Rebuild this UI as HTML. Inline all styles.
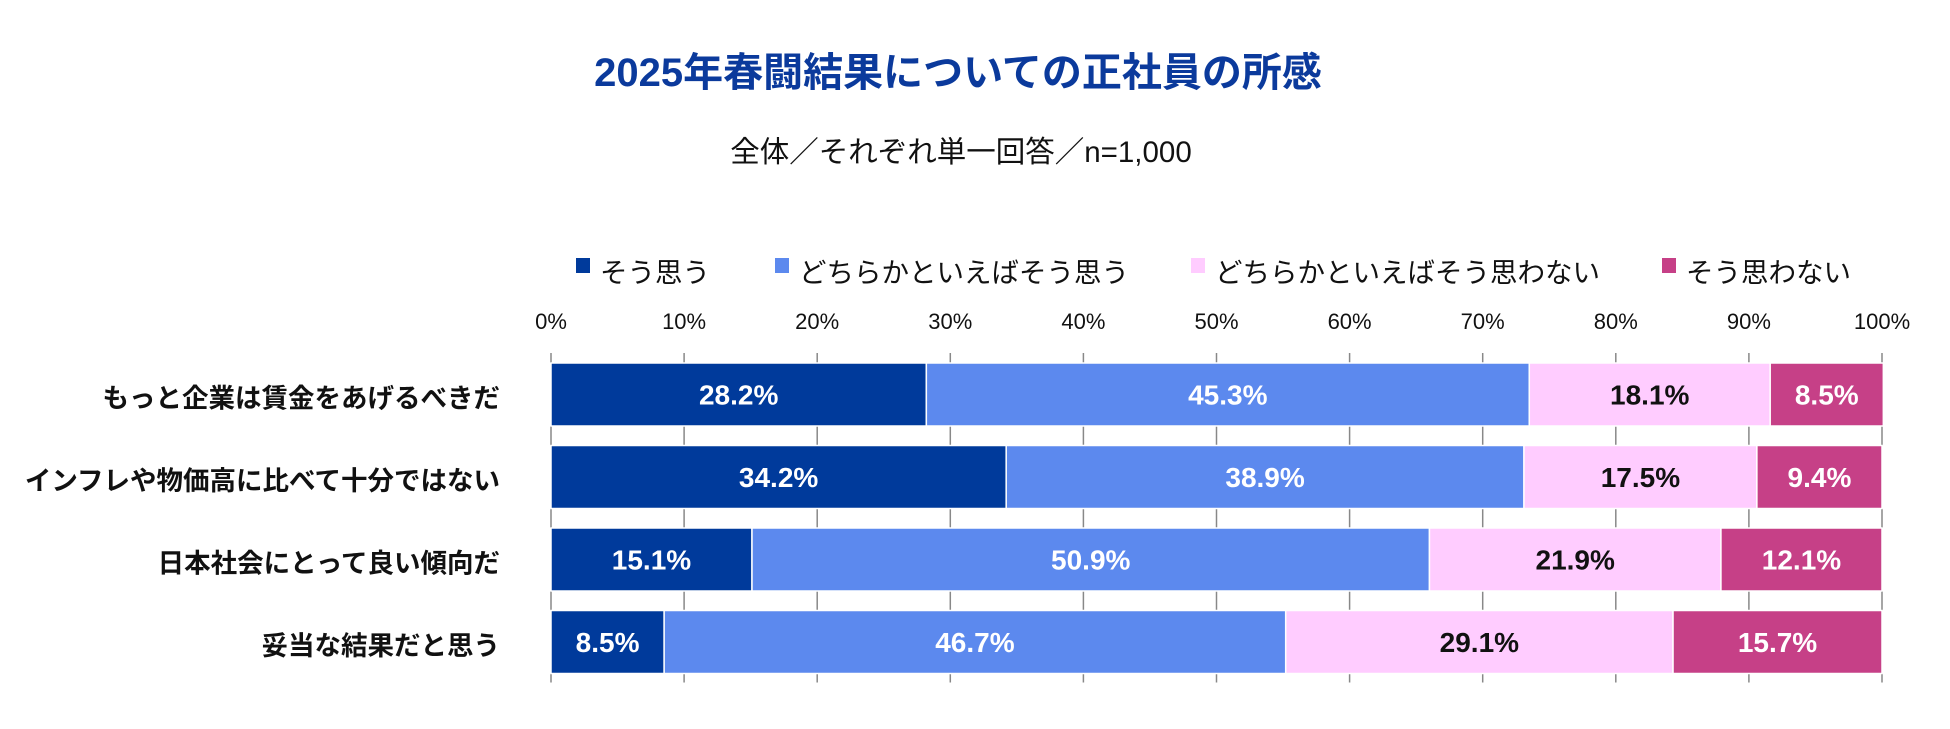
<!DOCTYPE html>
<html><head><meta charset="utf-8">
<style>
body{margin:0;background:#fff;width:1950px;height:724px;overflow:hidden;font-family:"Liberation Sans","Noto Sans CJK JP",sans-serif;}
</style></head><body>
<svg id="chart" width="1950" height="724" xmlns="http://www.w3.org/2000/svg" font-family="'Liberation Sans','Noto Sans CJK JP',sans-serif">
<text x="958" y="86" text-anchor="middle" font-size="40" font-weight="bold" fill="#0b3a9c">2025年春闘結果についての正社員の所感</text>
<text x="961" y="162" text-anchor="middle" font-size="29.5" fill="#111">全体／それぞれ単一回答／n=1,000</text>
<g id="legend"></g>
<g id="axis"></g>
<g id="bars"></g>
</svg>
<script>
const categories = ["もっと企業は賃金をあげるべきだ","インフレや物価高に比べて十分ではない","日本社会にとって良い傾向だ","妥当な結果だと思う"];
const seriesNames = ["そう思う","どちらかといえばそう思う","どちらかといえばそう思わない","そう思わない"];
const s1 = [28.2,34.2,15.1,8.5];
const s2 = [45.3,38.9,50.9,46.7];
const s3 = [18.1,17.5,21.9,29.1];
const s4 = [8.5,9.4,12.1,15.7];
const ticks = [0,10,20,30,40,50,60,70,80,90,100];

const series=[s1,s2,s3,s4];
const colors=["#003a9b","#5c89ee","#ffccff","#c64087"];
const textColors=["#fff","#fff","#111","#fff"];
const NS="http://www.w3.org/2000/svg";
const x0=551,x1=1882;
const xs=v=>x0+(x1-x0)*v/100;
const rowTop=i=>363+i*82.5, barH=63;
function mk(tag,attrs,parent){const e=document.createElementNS(NS,tag);for(const k in attrs)e.setAttribute(k,attrs[k]);parent.appendChild(e);return e;}
const legend=document.getElementById('legend');
const legX=[576,775,1191,1662];
seriesNames.forEach((n,i)=>{
  const r=mk('rect',{x:legX[i],y:258,width:14,height:15,fill:colors[i]},legend);
  
  
  const t=mk('text',{x:legX[i]+24,y:282,'font-size':27.5,fill:'#111'},legend);
  t.textContent=n;
  
  
});
const axis=document.getElementById('axis');
ticks.forEach(v=>{
  const t=mk('text',{x:xs(v),y:329,'text-anchor':'middle','font-size':22,fill:'#111'},axis);
  t.textContent=v+'%';
  
  
  for(let i=0;i<=categories.length;i++){
    const y0=i===0?353:rowTop(i-1)+barH, y1=i===categories.length?y0+9:rowTop(i);
    const l=mk('line',{x1:xs(v),x2:xs(v),y1:y0,y2:y1,stroke:'#888','stroke-width':1.5},axis);
    
    
  }
});
const bars=document.getElementById('bars');
categories.forEach((c,i)=>{
  const y=rowTop(i);
  const lab=mk('text',{x:500,y:y+barH/2+13,'text-anchor':'end','font-size':26.5,'font-weight':'bold',fill:'#111'},bars);
  lab.textContent=c;
  
  
  let acc=0;
  series.forEach((s,j)=>{
    const v=s[i];
    const r=mk('rect',{x:xs(acc),y:y,width:xs(acc+v)-xs(acc),height:barH,fill:colors[j],stroke:'#fff','stroke-width':1.5},bars);
    
    
    const t=mk('text',{x:(xs(acc)+xs(acc+v))/2,y:y+barH/2+10,'text-anchor':'middle','font-size':28,'font-weight':'bold',fill:textColors[j]},bars);
    t.textContent=v.toFixed(1)+'%';
    
    
    acc+=v;
  });
});
</script>
</body></html>
